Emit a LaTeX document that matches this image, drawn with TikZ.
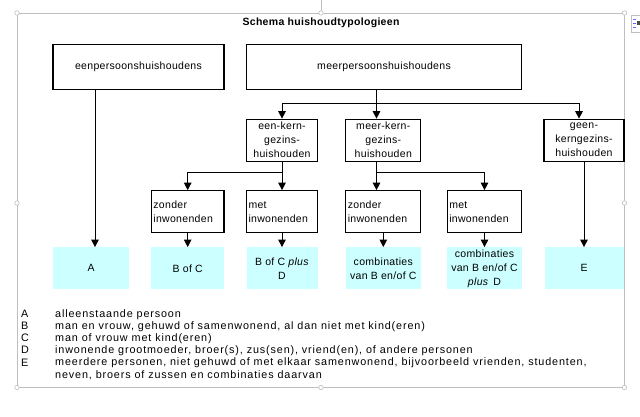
\documentclass[tikz,border=0pt]{standalone}
\usepackage{fontspec}
\setmainfont{Liberation Sans}[LetterSpace=3]
\newfontfamily\legendfont{Liberation Sans}[LetterSpace=8]
\usetikzlibrary{arrows.meta}
\tikzset{>={Triangle[width=7.5pt,length=7.5pt]}}
\definecolor{typecyan}{HTML}{CCFFFF}
\definecolor{framegrey}{HTML}{BFBFBF}

\begin{document}
\begin{tikzpicture}[x=1pt, y=-1pt, font=\fontsize{10.5}{14}\selectfont,
    hhbox/.style={draw, line width=1.1pt, inner sep=0pt, align=center},
    inwbox/.style={hhbox, align=left, inner xsep=2pt, minimum height=42pt},
    typebox/.style={fill=typecyan, inner sep=0pt, align=center, minimum height=42pt},
    link/.style={line width=1pt},
    handle/.style={draw=framegrey, fill=white, line width=0.6pt},
    legendkey/.style={anchor=base west, inner sep=0pt, font=\fontsize{10.8}{12}\legendfont},
    legendtext/.style={anchor=base west, inner sep=0pt, font=\fontsize{10.8}{12}\legendfont}]
    \useasboundingbox (0,0) rectangle (640,417);

    % selection frame round the picture
    \draw[framegrey, line width=0.8pt] (17,13) rectangle (624.5,387.5);
    \draw[framegrey, line width=0.8pt] (321,0) -- (321,13);
    \foreach \hx/\hy in {17/13, 321/13, 624.5/13, 17/203, 624.5/203, 17/387.5, 321/387.5, 624.5/387.5}
        \draw[handle] (\hx,\hy) circle [radius=2.2pt];
    \draw[framegrey, fill=white, line width=0.6pt] (631.5,15) rectangle (641,32);
    \draw[blue!60, line width=0.8pt] (633,19) -- (635.5,19) (633,23) -- (635.5,23) (633,27) -- (635.5,27);
    \fill[black!70] (636.5,21) rectangle (640,25);

    \node[font=\fontsize{10.5}{14}\selectfont\bfseries] (title) at (321,22.7) {Schema huishoudtypologieen};

    % top row
    \node[hhbox, minimum width=171pt, minimum height=45pt] (een) at (138.5,66.8) {eenpersoonshuishoudens};
    \node[hhbox, minimum width=275pt, minimum height=45pt] (meer) at (384,66.8) {meerpersoonshuishoudens};

    % second row
    \node[hhbox, minimum width=71pt, minimum height=42pt] (eenkern) at (282,140.2) {een-kern-\\gezins-\\huishouden};
    \node[hhbox, minimum width=75pt, minimum height=42pt] (meerkern) at (383.3,140.2) {meer-kern-\\gezins-\\huishouden};
    \node[hhbox, minimum width=80pt, minimum height=42pt] (geen) at (584,140.2) {geen-\\kerngezins-\\huishouden};

    % third row
    \node[inwbox, text width=68.6pt] (zondera) at (187.7,211.7) {zonder\\inwonenden};
    \node[inwbox, text width=67pt] (meta) at (282,211.7) {met\\inwonenden};
    \node[inwbox, text width=71pt] (zonderb) at (383.3,211.7) {zonder\\inwonenden};
    \node[inwbox, text width=70.5pt] (metb) at (484.5,211.7) {met\\inwonenden};

    % types
    \node[typebox, minimum width=76.4pt] (typa) at (91.2,268.3) {A};
    \node[typebox, minimum width=72.6pt] (typbc) at (187.7,268.3) {B of C};
    \node[typebox, minimum width=71pt] (typbcd) at (282,268.3) {B of C \textit{plus}\\D};
    \node[typebox, minimum width=75pt] (typcomb) at (383.3,268.3) {combinaties\\van B en/of C};
    \node[typebox, minimum width=74.5pt] (typcombd) at (484.5,268.3) {combinaties\\van B en/of C\\\textit{plus}\, D};
    \node[typebox, minimum width=79pt] (type) at (584,268.3) {E};

    % connectors
    \coordinate (jm) at (376.5,104);
    \coordinate (jk) at (282,172.7);
    \coordinate (jn) at (376.5,172.7);
    \coordinate (ja) at (95,150);
    \draw[link] (meer.south -| jm) -- (jm);
    \draw[link,->] (jm) -| (eenkern.north);
    \draw[link,->] (jm) -- (jm |- meerkern.north);
    \draw[link,->] (jm) -| ([xshift=-5pt]geen.north);
    \draw[link] (eenkern.south) -- (jk);
    \draw[link,->] (jk) -| (zondera.north);
    \draw[link,->] (jk) -- (meta.north);
    \draw[link] (jn |- meerkern.south) -- (jn);
    \draw[link,->] (jn) -- (jn |- zonderb.north);
    \draw[link,->] (jn) -| (metb.north);
    \draw[link,->] (een.south -| ja) -- (ja |- typa.north);
    \draw[link,->] (zondera) -- (typbc);
    \draw[link,->] (meta) -- (typbcd);
    \draw[link,->] (zonderb) -- (typcomb);
    \draw[link,->] (metb) -- (typcombd);
    \draw[link,->] (geen) -- (type);

    % legend
    \node[legendkey] (keya) at (21,317.3) {A};
    \node[legendtext] (texta) at (55,317.3) {alleenstaande persoon};
    \node[legendkey] (keyb) at (21,329.5) {B};
    \node[legendtext] (textb) at (55,329.5) {man en vrouw, gehuwd of samenwonend, al dan niet met kind(eren)};
    \node[legendkey] (keyc) at (21,341.7) {C};
    \node[legendtext] (textc) at (55,341.7) {man of vrouw met kind(eren)};
    \node[legendkey] (keyd) at (21,353.9) {D};
    \node[legendtext] (textd) at (55,353.9) {inwonende grootmoeder, broer(s), zus(sen), vriend(en), of andere personen};
    \node[legendkey] (keye) at (21,366.6) {E};
    \node[legendtext] (texte) at (55,365.6) {meerdere personen, niet gehuwd of met elkaar samenwonend, bijvoorbeeld vrienden, studenten,};
    \node[legendtext] (texte2) at (55,378.3) {neven, broers of zussen en combinaties daarvan};
\end{tikzpicture}
\end{document}
